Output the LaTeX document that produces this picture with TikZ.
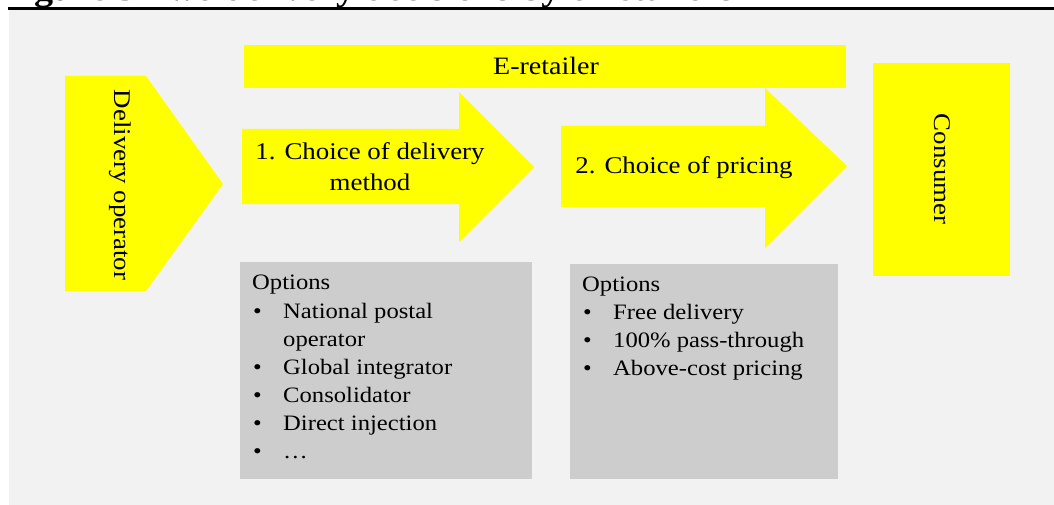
\documentclass[tikz,border=0pt]{standalone}
\usepackage{fontspec}
\setmainfont[FakeStretch=1.12]{Liberation Serif}
\definecolor{ylw}{HTML}{FFFF00}
\definecolor{panel}{HTML}{F2F2F2}
\definecolor{gbox}{HTML}{CDCDCD}
\begin{document}
\begin{tikzpicture}[x=1pt,y=-1pt,
  lbl/.style={inner sep=0pt, font=\fontsize{24}{31}\selectfont},
  opt/.style={anchor=base west, inner sep=0pt, font=\fontsize{22}{26}\selectfont},
  bul/.style={anchor=base west, inner sep=0pt, font=\fontsize{22}{26}\selectfont}]
\useasboundingbox (0,0) rectangle (1054,505);
\fill[white] (0,0) rectangle (1054,505);
\fill[panel] (9,10) rectangle (1054,505);
\node[anchor=base west, inner sep=0pt, font=\bfseries\fontsize{34}{36}\selectfont] (title) at (0,1) {Figure 5 Two delivery decisions by e-retailers};
\draw[line width=2.2pt] (8,8.5) -- (1054,8.5);
% shapes
\fill[ylw] (65,76) -- (146,76) -- (223,184) -- (146,291) -- (65,291) -- cycle;
\fill[ylw] (244,45) rectangle (846,88);
\fill[ylw] (242,129) -- (459,129) -- (459,92) -- (534,167) -- (459,242) -- (459,204) -- (242,204) -- cycle;
\fill[ylw] (561,126) -- (765,126) -- (765,88) -- (847,166) -- (765,248) -- (765,207) -- (561,207) -- cycle;
\fill[ylw] (873,63) rectangle (1010,276);
\fill[gbox] (240,262) rectangle (532,479);
\fill[gbox] (570,264) rectangle (838,479);
% texts
\node[lbl, rotate=-90] (dop) at (120,185) {Delivery operator};
\node[lbl, anchor=base, font=\fontsize{25}{30}\selectfont] (eret) at (546,75) {E-retailer};
\node[lbl, anchor=base, align=center] (c1) at (370,190) {1. Choice of delivery\\method};
\node[lbl, anchor=base] (c2) at (684,174) {2. Choice of pricing};
\node[lbl, rotate=-90] (cons) at (942,169) {Consumer};
% options 1
\node[opt] (o1) at (252,289) {Options};
\node[bul] (b11) at (253,318) {\textbullet};
\node[opt] (i11) at (283,318) {National postal};
\node[opt] (i12) at (283,346) {operator};
\node[bul] (b13) at (253,374) {\textbullet};
\node[opt] (i13) at (283,374) {Global integrator};
\node[bul] (b14) at (253,402) {\textbullet};
\node[opt] (i14) at (283,402) {Consolidator};
\node[bul] (b15) at (253,430) {\textbullet};
\node[opt] (i15) at (283,430) {Direct injection};
\node[bul] (b16) at (253,458) {\textbullet};
\node[opt] (i16) at (283,458) {\dots};
% options 2
\node[opt] (o2) at (582,291) {Options};
\node[bul] (b21) at (583,319) {\textbullet};
\node[opt] (i21) at (613,319) {Free delivery};
\node[bul] (b22) at (583,347) {\textbullet};
\node[opt] (i22) at (613,347) {100\% pass-through};
\node[bul] (b23) at (583,375) {\textbullet};
\node[opt] (i23) at (613,375) {Above-cost pricing};
\end{tikzpicture}
\end{document}
